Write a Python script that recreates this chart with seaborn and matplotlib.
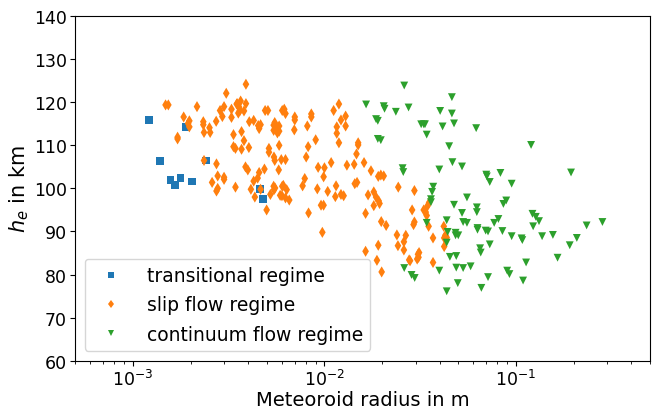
import matplotlib
matplotlib.use("Agg")
import matplotlib.pyplot as plt
import seaborn as sns
import pandas as pd

trans_r = [1.21e-3, 1.38e-3, 1.57e-3, 1.65e-3, 1.77e-3, 1.88e-3, 2.04e-3, 2.40e-3, 4.63e-3, 4.78e-3]
trans_h = [115.8, 106.3, 102.0, 100.8, 102.4, 114.3, 101.6, 106.5, 99.8, 97.6]

slip_r = [1.48e-3, 1.53e-3, 1.71e-3, 1.71e-3, 1.84e-3, 1.97e-3, 1.94e-3, 1.97e-3, 2.16e-3, 2.33e-3,
          2.33e-3, 2.35e-3, 2.51e-3, 2.53e-3, 2.35e-3, 2.59e-3, 2.73e-3, 2.77e-3, 2.73e-3, 2.77e-3,
          2.99e-3, 2.99e-3, 2.72e-3, 2.85e-3, 2.93e-3, 3.07e-3, 2.99e-3, 3.27e-3, 3.27e-3, 3.35e-3,
          3.35e-3, 3.43e-3, 3.43e-3, 3.48e-3, 3.50e-3, 3.55e-3, 3.62e-3, 3.58e-3, 3.65e-3, 3.69e-3,
          3.69e-3, 3.80e-3, 3.89e-3, 3.80e-3, 3.89e-3, 3.87e-3, 3.98e-3, 4.03e-3, 4.13e-3, 4.05e-3,
          4.27e-3, 4.27e-3, 4.33e-3, 4.51e-3, 4.64e-3, 4.56e-3, 4.56e-3, 4.48e-3, 4.64e-3, 4.86e-3,
          4.90e-3, 5.07e-3, 4.99e-3, 5.13e-3, 5.13e-3, 5.22e-3, 5.45e-3, 5.43e-3, 5.50e-3, 5.43e-3,
          5.45e-3, 5.50e-3, 5.52e-3, 5.43e-3, 5.68e-3, 5.80e-3, 5.68e-3, 5.80e-3, 5.77e-3, 5.80e-3,
          5.87e-3, 6.00e-3, 6.02e-3, 6.17e-3, 6.26e-3, 5.95e-3, 6.26e-3, 6.02e-3, 6.10e-3, 6.26e-3,
          6.35e-3, 6.55e-3, 7.00e-3, 7.00e-3, 6.96e-3, 7.69e-3, 7.89e-3, 8.14e-3, 8.03e-3, 8.22e-3,
          8.26e-3, 8.54e-3, 8.54e-3, 9.00e-3, 9.18e-3, 9.27e-3, 9.60e-3, 9.90e-3, 9.75e-3, 9.90e-3,
          1.00e-2, 1.04e-2, 1.084e-2, 1.117e-2, 1.14e-2, 1.15e-2, 1.16e-2, 1.16e-2, 1.19e-2, 1.19e-2,
          1.22e-2, 1.22e-2, 1.26e-2, 1.29e-2, 1.29e-2, 1.31e-2, 1.43e-2, 1.44e-2, 1.48e-2, 1.50e-2,
          1.50e-2, 1.47e-2, 1.61e-2, 1.64e-2, 1.64e-2, 1.69e-2, 1.75e-2, 1.81e-2, 1.81e-2, 1.86e-2,
          1.88e-2, 1.92e-2, 1.94e-2, 1.91e-2, 1.91e-2, 1.97e-2, 1.98e-2, 1.99e-2, 2.04e-2, 2.10e-2,
          2.43e-2, 2.39e-2, 2.42e-2, 2.60e-2, 2.60e-2, 2.66e-2, 2.77e-2, 2.80e-2, 2.87e-2, 2.92e-2,
          2.95e-2, 2.95e-2, 3.05e-2, 3.10e-2, 3.08e-2, 3.12e-2, 3.30e-2, 3.38e-2, 3.42e-2, 3.50e-2,
          3.52e-2, 3.45e-2, 3.69e-2, 3.69e-2, 4.20e-2, 4.22e-2, 4.22e-2, 4.28e-2, 4.35e-2]
slip_h = [119.4, 119.4, 111.9, 111.5, 116.6, 115.7, 115.1, 114.3, 119.0, 115.5,
          114.8, 113.0, 114.1, 113.0, 106.5, 101.4, 105.7, 102.9, 99.4, 100.0,
          102.6, 102.1, 115.6, 118.1, 116.7, 122.1, 119.0, 116.5, 118.4, 112.5,
          109.7, 109.3, 100.3, 119.6, 119.7, 117.5, 118.1, 118.9, 120.3, 113.2,
          109.1, 118.0, 119.7, 111.1, 124.2, 105.0, 104.3, 109.5, 99.8, 115.5,
          115.8, 101.7, 98.0, 114.6, 114.8, 113.9, 103.7, 102.4, 99.8, 104.5,
          118.1, 118.1, 95.0, 109.3, 108.4, 98.6, 99.7, 114.7, 115.3, 113.5,
          107.3, 106.5, 100.1, 100.5, 114.0, 114.5, 112.9, 113.3, 104.3, 110.0,
          98.4, 98.3, 118.1, 118.4, 117.4, 106.7, 106.7, 100.5, 100.7, 97.8,
          99.7, 97.3, 116.6, 115.9, 113.6, 100.6, 102.3, 114.5, 107.3, 109.7,
          94.3, 117.3, 116.6, 111.3, 99.9, 104.9, 96.1, 96.1, 89.8, 102.7,
          104.8, 99.3, 106.0, 118.1, 98.1, 100.6, 114.3, 112.8, 119.6, 110.6,
          115.9, 98.6, 98.3, 116.8, 114.5, 105.4, 105.6, 101.1, 101.4, 110.6,
          110.1, 108.0, 106.0, 94.2, 85.4, 98.5, 104.1, 96.0, 99.2, 98.0,
          83.3, 97.1, 96.5, 86.8, 102.8, 103.1, 92.3, 80.6, 102.9, 91.4,
          100.3, 89.2, 86.7, 87.6, 85.7, 89.1, 83.4, 83.2, 95.0, 91.6,
          92.2, 99.5, 83.6, 84.0, 84.7, 85.1, 95.0, 94.5, 93.7, 91.2,
          96.7, 95.9, 82.8, 88.5, 91.2, 88.5, 86.5, 89.1, 88.6]

cont_r = [1.65e-2, 1.86e-2, 1.90e-2, 1.90e-2, 1.97e-2, 2.04e-2, 2.06e-2, 2.36e-2, 2.56e-2, 2.58e-2,
          2.61e-2, 2.61e-2, 2.75e-2, 2.85e-2, 2.96e-2, 3.20e-2, 3.30e-2, 3.35e-2, 3.42e-2, 3.42e-2,
          3.60e-2, 3.60e-2, 3.65e-2, 3.70e-2, 3.98e-2, 3.98e-2, 4.02e-2, 4.14e-2, 4.35e-2, 4.40e-2,
          4.35e-2, 4.35e-2, 4.48e-2, 4.52e-2, 4.63e-2, 4.63e-2, 4.66e-2, 4.75e-2, 4.75e-2, 4.84e-2,
          4.84e-2, 4.88e-2, 4.88e-2, 4.97e-2, 5.00e-2, 5.23e-2, 5.23e-2, 5.30e-2, 5.30e-2, 5.55e-2,
          5.55e-2, 5.80e-2, 6.20e-2, 6.25e-2, 6.25e-2, 6.30e-2, 6.30e-2, 6.50e-2, 6.55e-2, 6.60e-2,
          7.00e-2, 7.05e-2, 7.30e-2, 6.95e-2, 7.15e-2, 7.30e-2, 7.15e-2, 7.70e-2, 8.10e-2, 8.30e-2,
          8.50e-2, 8.60e-2, 8.90e-2, 9.00e-2, 9.25e-2, 9.50e-2, 9.50e-2, 1.07e-1, 1.08e-1, 1.09e-1,
          1.13e-1, 1.20e-1, 1.22e-1, 1.27e-1, 1.23e-1, 1.32e-1, 1.37e-1, 1.56e-1, 1.65e-1, 1.91e-1,
          1.94e-1, 2.08e-1, 2.34e-1, 2.83e-1]
cont_h = [119.5, 116.1, 115.7, 111.5, 111.2, 119.1, 118.5, 117.8, 104.7, 103.8,
          123.9, 81.5, 118.8, 79.9, 79.2, 114.9, 114.9, 114.9, 112.5, 92.0,
          96.8, 97.5, 99.2, 100.4, 104.4, 80.9, 118.0, 114.4, 92.6, 89.9,
          87.4, 76.1, 109.8, 84.1, 121.2, 117.4, 106.1, 115.1, 96.2, 89.7,
          89.1, 84.3, 81.6, 78.0, 89.1, 105.1, 94.3, 92.2, 81.5, 97.9,
          92.0, 81.9, 114.0, 95.6, 94.5, 90.8, 90.4, 86.1, 85.1, 76.9,
          103.2, 102.8, 101.5, 90.2, 90.0, 87.0, 79.4, 92.0, 92.9, 103.6,
          90.1, 96.4, 97.2, 80.9, 80.1, 101.1, 88.9, 88.4, 88.0, 78.6,
          82.8, 110.1, 94.1, 93.4, 91.2, 92.4, 88.9, 89.2, 83.9, 86.8,
          103.7, 88.5, 91.4, 92.2]

labels = ["transitional regime", "slip flow regime", "continuum flow regime"]
colors = ["#1f77b4", "#ff7f0e", "#2ca02c"]
marks = ["s", "d", "v"]

df = pd.DataFrame({
    "r": trans_r + slip_r + cont_r,
    "h": trans_h + slip_h + cont_h,
    "regime": [labels[0]] * len(trans_r) + [labels[1]] * len(slip_r) + [labels[2]] * len(cont_r),
})

fig, ax = plt.subplots(figsize=(6.55, 4.10), dpi=100)
sns.scatterplot(data=df, x="r", y="h", hue="regime", style="regime",
                palette=dict(zip(labels, colors)), markers=dict(zip(labels, marks)),
                hue_order=labels, style_order=labels, s=32, linewidth=0,
                ax=ax)
ax.set_xscale("log")
ax.set_xlim(5e-4, 0.5)
ax.set_ylim(60, 140)
ax.set_yticks(range(60, 141, 10))
ax.set_xlabel("Meteoroid radius in m", fontsize=14, labelpad=1)
ax.set_ylabel(r"$h_e$ in km", fontsize=15, labelpad=2)
ax.tick_params(labelsize=12.5, pad=2.5)
ax.legend(loc="lower left", fontsize=13.5, markerscale=0.8, handletextpad=0.9,
          borderpad=0.4, labelspacing=0.55)
fig.subplots_adjust(left=0.115, right=0.992, top=0.958, bottom=0.118)
fig.savefig("out.png", dpi=100)
